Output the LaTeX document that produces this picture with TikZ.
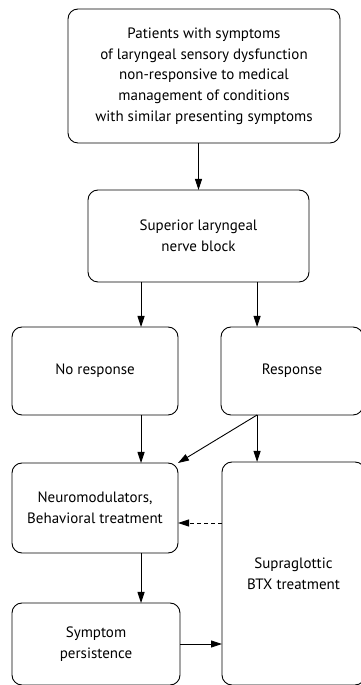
\documentclass[tikz,border=0pt]{standalone}
\usepackage{fontspec}
\setmainfont{PT Sans}
\usetikzlibrary{positioning,arrows.meta,calc}

\begin{document}
\begin{tikzpicture}[x=1pt,y=1pt,>={Triangle[length=11pt,width=7pt]},
  every node/.style={font=\fontsize{15}{20.7}\selectfont},
  box/.style={draw,rectangle,rounded corners=10pt,line width=0.9pt,align=center,inner sep=0pt,outer sep=0pt},
  conn/.style={->,line width=0.9pt}]
  \useasboundingbox (0,0) rectangle (361,685);

  \node[box,minimum width=272pt,minimum height=134pt] (top) at (204,609)
    {Patients with symptoms\\of laryngeal sensory dysfunction\\non-responsive to medical\\management of conditions\\with similar presenting symptoms};
  \node[box,minimum width=221pt,minimum height=92pt,below=47pt of top,xshift=-5.5pt] (block) {Superior laryngeal\\nerve block};
  \node[box,minimum width=166pt,minimum height=88pt] (noresp) at (95,314) {No response};
  \node[box,minimum width=142pt,minimum height=88pt,right=43pt of noresp] (resp) {Response};
  \node[box,minimum width=166pt,minimum height=90pt,below=48pt of noresp] (neuro) {Neuromodulators,\\Behavioral treatment};
  \node[box,minimum width=143pt,minimum height=223pt,below=47pt of resp.south west,anchor=north west,xshift=1pt] (supra) {Supraglottic\\BTX treatment};
  \node[box,minimum width=168pt,minimum height=82pt,below=50pt of neuro.south west,anchor=north west] (symptom) {Symptom\\persistence};

  \coordinate (lx) at ($(block.south west)!0.24!(block.south east)$);
  \coordinate (rx) at ($(block.south west)!0.765!(block.south east)$);

  \draw[conn] (top.south -| block.north) -- (block.north);
  \draw[conn] (lx) -- (lx |- noresp.north);
  \draw[conn] (rx) -- (rx |- resp.north);
  \draw[conn] (noresp.south -| lx) -- (neuro.north -| lx);
  \draw[conn] (resp.south -| rx) -- (supra.north -| rx);
  \draw[conn] (resp.south -| rx) -- (neuro.north east);
  \draw[conn,dashed,dash pattern=on 4pt off 3pt] (supra.west |- {$(neuro.east)+(0,-15pt)$}) -- ($(neuro.east)+(0,-15pt)$);
  \draw[conn] (neuro.south -| lx) -- (symptom.north -| lx);
  \draw[conn] (symptom.east) -- (supra.west |- symptom.east);
\end{tikzpicture}
\end{document}
